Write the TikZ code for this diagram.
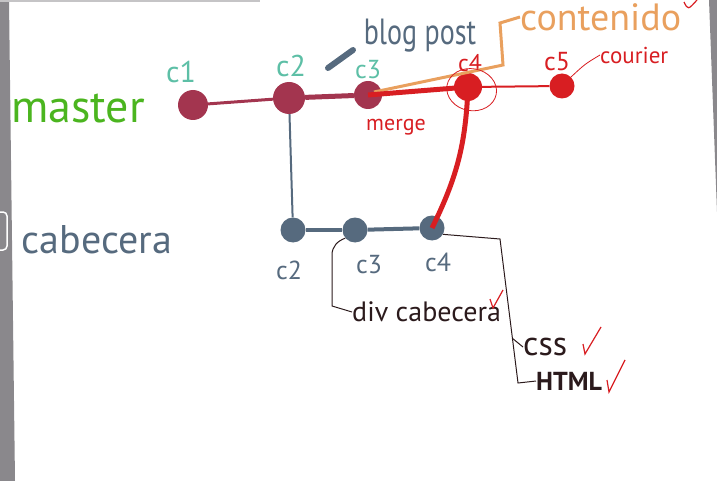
\documentclass[tikz,border=0pt]{standalone}
\usepackage{fontspec}
\setmainfont{PT Sans}
\usetikzlibrary{positioning, calc}

\definecolor{granate}{HTML}{A3354F}
\definecolor{pizarra}{HTML}{566A7E}
\definecolor{turquesa}{HTML}{5DBFA6}
\definecolor{rojo}{HTML}{D81E22}
\definecolor{naranja}{HTML}{E9A05E}
\definecolor{verde}{HTML}{4BB51F}
\definecolor{tinta}{HTML}{2B1A1C}
\definecolor{borde}{HTML}{8A888C}

\newcommand{\tam}[1]{\fontsize{#1}{#1}\selectfont}

\tikzset{
  commit/.style={circle, fill=#1, inner sep=0pt},
  rotulo/.style={inner sep=0pt, text=#1},
}

\begin{document}
\begin{tikzpicture}[x=1pt, y=-1pt]

		% Tamaños de los commits
		\def\Rg{30pt}   % commit grande
		\def\Rp{25pt}   % commit pequeño
		
		\useasboundingbox (0,0) rectangle (717,481);
		
		% --- 1. MARCO DE LA PANTALLA ---
		\fill[borde] (0,0) -- (9,0) -- (15,481) -- (0,481) -- cycle;
		\fill[borde] (709,0) -- (717,0) -- (717,212) -- cycle;
		\fill[borde!50] (0,0) rectangle (260,2);
		\draw[white, line width=1.5pt, rounded corners=4pt] (-6,212) rectangle (7,250);
		
		% --- 2. RAMA MASTER ---
		\node[rotulo=verde, font=\tam{46}] (master) at (78,108) {master};
		
		\node[commit=granate, minimum size=\Rg] (m1) at (193,105) {};
		\node[commit=granate, minimum size=32pt] (m2) at (289,98) {};
		\node[commit=granate, minimum size=28pt] (m3) at (368,95) {};
		\node[commit=rojo, minimum size=28pt] (m4) at (468,87) {};
		\node[commit=rojo, minimum size=\Rp] (m5) at (562,86) {};
		
		\draw[granate, line width=3pt] (m1) -- (m2);
		\draw[granate, line width=5pt] (m2) -- (m3);
		\draw[rojo, line width=2pt] (m4) -- (m5);
		
		% Etiquetas de los commits
		\node[rotulo=turquesa, font=\tam{30}] (lm1) at (181,72) {c1};
		\node[rotulo=turquesa, font=\tam{30}] (lm2) at (291,66) {c2};
		\node[rotulo=turquesa, font=\tam{26}] (lm3) at (368,70) {c3};
		\node[rotulo=rojo, font=\tam{24}] (lm4) at (470,63) {c4};
		\node[rotulo=rojo, font=\tam{26}] (lm5) at (557,62) {c5};
		
		% Rama blog post
		\coordinate (barraA) at (328,68);
		\coordinate (barraB) at (353,50);
		\draw[pizarra, line width=6pt, line cap=round] (barraA) -- (barraB);
		\node[rotulo=pizarra, font=\tam{28}, yscale=1.3] (blog) at (420,36) {blog post};
		
		% Rama contenido
		\node[rotulo=naranja, font=\tam{38}, anchor=west] (contenido) at (520,17) {contenido};
		\coordinate (esquinaA) at (503,65);
		\coordinate (esquinaB) at (500,23);
		\draw[naranja, line width=3pt] (m3.center) ++(6,-3) -- (esquinaA) -- (esquinaB) -- (contenido.west);
		\draw[rojo, line width=1.2pt] (684,2) .. controls (688,10) .. (697,0);
		
		% Merge de c3 a c4
		\draw[rojo, line width=5pt] (m3.center) -- (m4.center);
		\draw[rojo, line width=0.8pt, rotate around={-10:(m4)}] (m4) ++(4,2) ellipse (25 and 21);
		\node[rotulo=rojo, font=\tam{22}] (merge) at (396,127) {merge};
		
		% Rama courier
		\node[rotulo=rojo, font=\tam{23}, anchor=west] (courier) at (600,55) {courier};
		\draw[rojo, line width=0.8pt] (m5.north east) .. controls (585,64) .. (courier.west);
		
		% --- 3. RAMA CABECERA ---
		\node[rotulo=pizarra, font=\tam{40}] (cabecera) at (97,240) {cabecera};
		
		\node[commit=pizarra, minimum size=\Rp] (h2) at (293,230) {};
		\node[commit=pizarra, minimum size=\Rp] (h3) at (355,230) {};
		\node[commit=pizarra, minimum size=\Rp] (h4) at (432,228) {};
		
		\draw[pizarra, line width=2pt] (m2) -- (h2);
		\draw[pizarra, line width=4pt] (h2) -- (h3);
		\draw[pizarra, line width=4pt] (h3) -- (h4);
		
		\node[rotulo=pizarra, font=\tam{26}] (lh2) at (289,270) {c2};
		\node[rotulo=pizarra, font=\tam{26}] (lh3) at (369,265) {c3};
		\node[rotulo=pizarra, font=\tam{26}] (lh4) at (438,262) {c4};
		
		% Merge de cabecera a master
		\draw[rojo, line width=5pt] (h4.center) to[bend right=12] (m4.center);
		
		% --- 4. TAREAS ---
		\node[rotulo=tinta, font=\tam{28}, anchor=west] (div) at (352,312) {div cabecera};
		\node[rotulo=tinta, font=\tam{34}, anchor=west] (css) at (523,347) {css};
		\node[rotulo=tinta, font=\tam{26}, anchor=west] (html) at (536,381) {\bfseries HTML};
		
		\draw[tinta, line width=1pt] (h3.220) to[out=200, in=90] (332,255) -- (332,306) -- (div.west);
		\coordinate (codoA) at (500,239);
		\coordinate (codoB) at (518,383);
		\draw[tinta, line width=1pt] (h4.-30) -- (codoA) -- (codoB) -- (html.west);
		\draw[tinta, line width=1pt] ($(codoA)!0.69!(codoB)$) -- (css.west);
		
		% Marcas de hecho
		\draw[rojo, line width=1.2pt] (490,299) -- (493,308) -- (503,290);
		\draw[rojo, line width=1.2pt] (583,344) -- (585,354) -- (601,327);
		\draw[rojo, line width=1.2pt] (607,380) -- (609,392) -- (625,360);
		
	\end{tikzpicture}
\end{document}
